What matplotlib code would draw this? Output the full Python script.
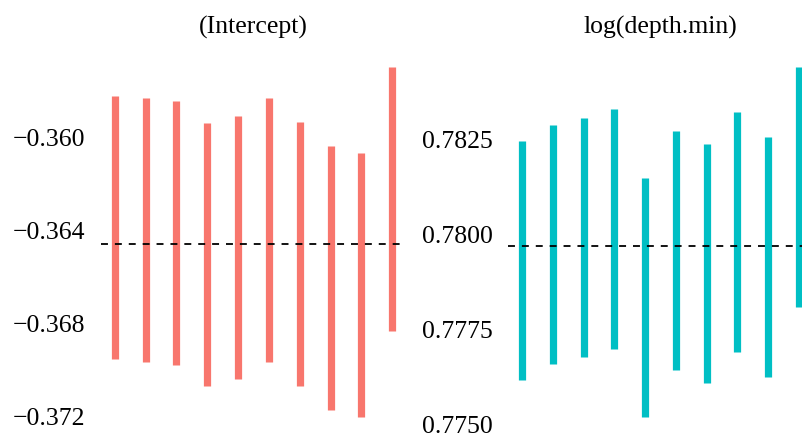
import numpy as np
import matplotlib.pyplot as plt

plt.rcParams['font.family'] = ['Liberation Serif', 'DejaVu Serif']
plt.rcParams['lines.scale_dashes'] = False

# interval ends for each of the 10 estimates, per panel
idx = np.arange(1, 11)
intercept_lo = [-0.36953, -0.36964, -0.36976, -0.37070, -0.37040,
                -0.36964, -0.37070, -0.37169, -0.37199, -0.36834]
intercept_hi = [-0.35823, -0.35834, -0.35846, -0.35939, -0.35909,
                -0.35834, -0.35937, -0.36037, -0.36069, -0.35701]
intercept_ref = -0.36457

depth_lo = [0.77617, 0.77660, 0.77678, 0.77700, 0.77522,
            0.77645, 0.77610, 0.77692, 0.77626, 0.77810]
depth_hi = [0.78246, 0.78288, 0.78306, 0.78330, 0.78150,
            0.78274, 0.78238, 0.78322, 0.78256, 0.78440]
depth_ref = 0.77971

titles = ['(Intercept)', 'log(depth.min)']
yticks_left = [-0.360, -0.364, -0.368, -0.372]
yticks_right = [0.7750, 0.7775, 0.7800, 0.7825]

W, H = 802, 436
fig = plt.figure(figsize=(W / 100, H / 100), dpi=100)

# panel positions in pixels (the right panel runs past the figure edge)
ax1 = fig.add_axes([101 / W, 2 / H, 305 / W, 384 / H])
ax2 = fig.add_axes([508.5 / W, 2 / H, 304 / W, 384 / H])


def panel(ax, lo, hi, ref, color, title, ticks, fmt):
    ax.vlines(idx, lo, hi, color=color, lw=5.2)
    ax.axhline(ref, color='black', lw=1.3, dashes=(5, 5))
    # ggplot-style 5% expansion
    xr = idx.max() - idx.min()
    ax.set_xlim(idx.min() - 0.05 * xr, idx.max() + 0.05 * xr)
    ymin, ymax = min(lo), max(hi)
    yr = ymax - ymin
    ax.set_ylim(ymin - 0.05 * yr, ymax + 0.05 * yr)
    ax.set_yticks(ticks)
    ax.set_yticklabels([fmt.format(t).replace('-', '\u2212') for t in ticks])
    ax.set_xticks([])
    ax.tick_params(axis='y', length=0, pad=11.3, labelsize=18.5)
    for s in ax.spines.values():
        s.set_visible(False)
    ax.set_title(title, fontsize=18.5, pad=12)


panel(ax1, intercept_lo, intercept_hi, intercept_ref, '#F8766D',
      titles[0], yticks_left, '{:.3f}')
panel(ax2, depth_lo, depth_hi, depth_ref, '#00BFC4',
      titles[1], yticks_right, '{:.4f}')

fig.savefig('out.png', dpi=100)
